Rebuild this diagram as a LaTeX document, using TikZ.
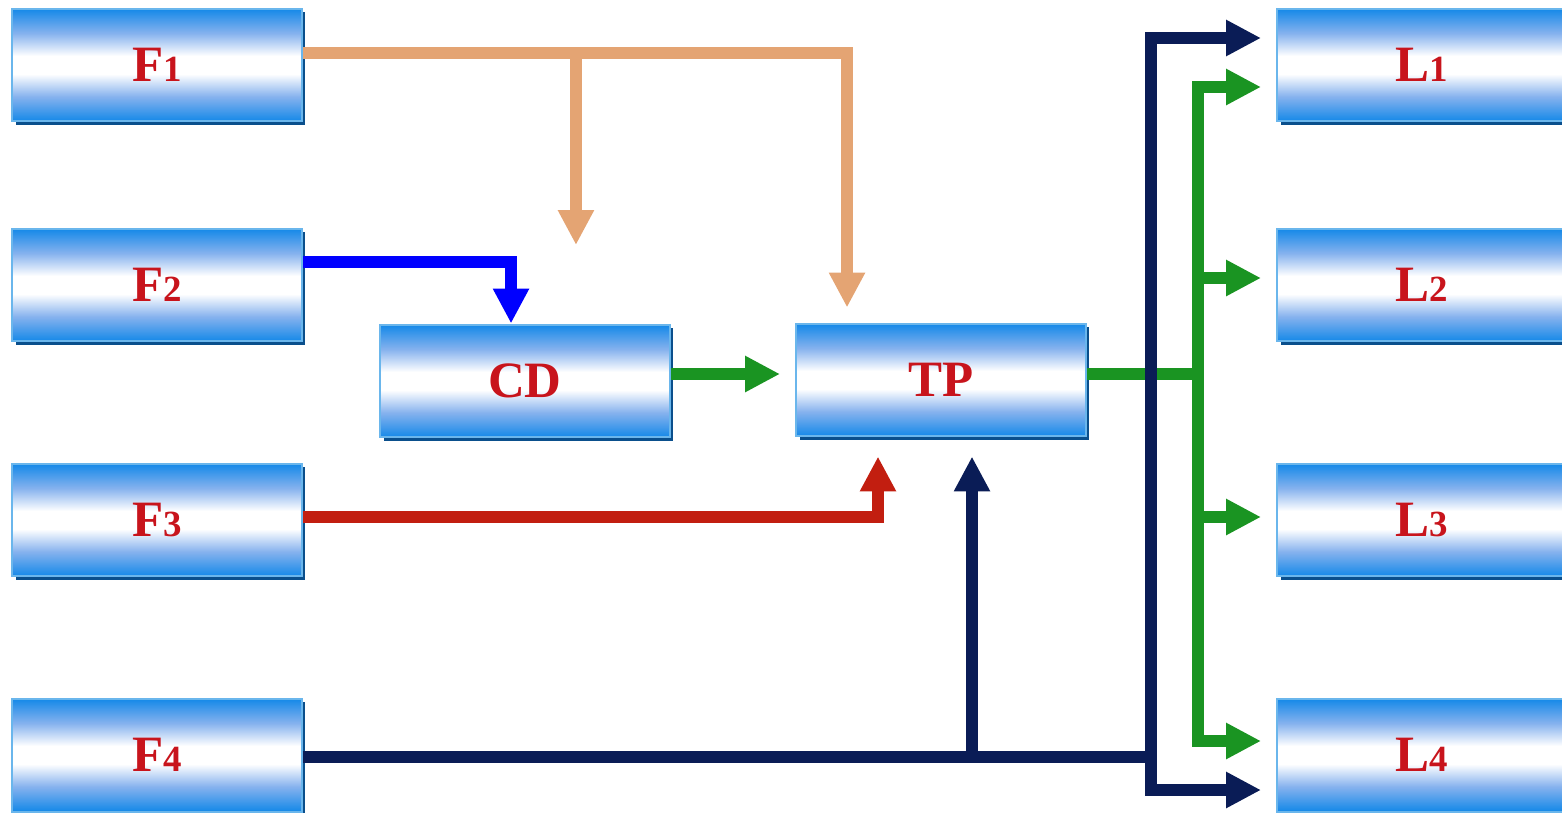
\documentclass[tikz,border=0pt]{standalone}
\usepackage{fontspec}
\setmainfont{Liberation Serif}
\usetikzlibrary{arrows.meta,calc,shadows}
\definecolor{boxblue}{HTML}{1388E8}
\definecolor{midblue}{HTML}{86B2EE}
\definecolor{lightborder}{HTML}{6AB6EC}
\definecolor{shadowblue}{HTML}{0A4F8C}
\definecolor{txtred}{HTML}{C8141C}
\definecolor{corange}{HTML}{E4A473}
\definecolor{cblue}{HTML}{0000FF}
\definecolor{cgreen}{HTML}{1A9422}
\definecolor{cred}{HTML}{C21E10}
\definecolor{cnavy}{HTML}{0A1C56}
\pgfdeclareverticalshading{boxshade}{100bp}{color(0bp)=(boxblue); color(25bp)=(boxblue); color(36bp)=(midblue); color(46bp)=(white); color(54bp)=(white); color(64bp)=(midblue); color(75bp)=(boxblue); color(100bp)=(boxblue)}
\newcommand{\lbl}[2]{\raisebox{-0.06cm}{\bfseries\fontsize{29}{29}\selectfont #1\fontsize{21}{21}\selectfont #2}}
\tikzset{
  box/.style={rectangle, shading=boxshade, draw=lightborder, line width=0.04cm,
    minimum width=5.8cm, minimum height=2.26cm, inner sep=0pt, text=txtred,
    general shadow={fill=shadowblue, shadow xshift=0.07cm, shadow yshift=-0.07cm}},
  conn/.style={line width=0.24cm, line join=miter, line cap=butt},
  tip/.style={-{Triangle[width=0.68cm,length=0.7cm]}},
}
\begin{document}
\begin{tikzpicture}[x=0.02cm,y=-0.02cm]
\useasboundingbox (0,0) rectangle (1562,812);
% boxes
\node[box] (F1) at (157,65) {\lbl{F}{1}};
\node[box] (F2) at (157,285) {\lbl{F}{2}};
\node[box] (F3) at (157,520) {\lbl{F}{3}};
\node[box] (F4) at (157,755) {\lbl{F}{4}};
\node[box] (CD) at (525,381) {\lbl{CD}{}};
\node[box] (TP) at (941,380) {\lbl{TP}{}};
\node[box] (L1) at (1422,65) {\lbl{L}{1}};
\node[box] (L2) at (1422,285) {\lbl{L}{2}};
\node[box] (L3) at (1422,520) {\lbl{L}{3}};
\node[box] (L4) at (1422,755) {\lbl{L}{4}};
% orange
\draw[conn, corange, tip] ($(F1.east)+(0,-12)$) -| ($(TP.north west)+(52,-15)$);
\coordinate (ob) at ($(F1.east)+(273,-12)$);
\coordinate (obe) at ($(ob)+(0,192)$);
\draw[conn, corange, tip] (ob) -- (obe);
% blue
\draw[conn, cblue, tip] ($(F2.east)+(0,-23)$) -| ($(CD.north west)+(132,0)$);
% green
\draw[conn, cgreen, tip] ($(CD.east)+(0,-7)$) -- ($(TP.west)+(-15,-6)$);
\coordinate (gj) at ($(TP.east)+(111,-6)$);
\draw[conn, cgreen] ($(TP.east)+(0,-6)$) -- (gj);
\draw[conn, cgreen, tip] (gj) |- ($(L1.west)+(-15,22)$);
\draw[conn, cgreen, tip] (gj) |- ($(L4.west)+(-15,-14)$);
\coordinate (g2) at ($(L2.west)+(-15,-7)$);
\coordinate (g3) at ($(L3.west)+(-15,-3)$);
\draw[conn, cgreen, tip] (gj |- g2) -- (g2);
\draw[conn, cgreen, tip] (gj |- g3) -- (g3);
% red
\draw[conn, cred, tip] ($(F3.east)+(0,-3)$) -| ($(TP.south)+(-63,19)$);
% navy
\coordinate (nj) at ($(F4.east)+(848,2)$);
\draw[conn, cnavy] ($(F4.east)+(0,2)$) -- (nj);
\coordinate (nt) at ($(TP.south)+(31,19)$);
\draw[conn, cnavy, tip] (nt |- nj) -- (nt);
\draw[conn, cnavy, tip] (nj) |- ($(L1.west)+(-15,-27)$);
\draw[conn, cnavy, tip] (nj) |- ($(L4.west)+(-15,35)$);
\end{tikzpicture}
\end{document}
